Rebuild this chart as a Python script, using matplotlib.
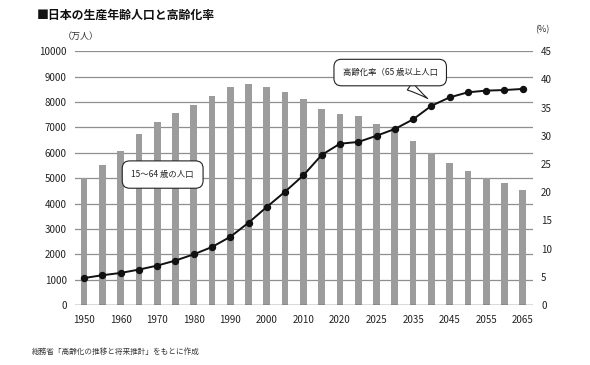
import matplotlib
matplotlib.use("Agg")
import matplotlib.pyplot as plt
import numpy as np

plt.rcParams['font.family'] = ['Noto Sans CJK JP', 'DejaVu Sans']

# 25 bars, evenly spaced; only every other one is labelled in the source
tick_labels = ['1950', '1960', '1970', '1980', '1990', '2000', '2010',
               '2020', '2025', '2035', '2045', '2055', '2065']

# working-age population (15-64), 10k persons
workers = [4990, 5510, 6060, 6730, 7205, 7570, 7875, 8240, 8570, 8715,
           8595, 8400, 8100, 7715, 7505, 7440, 7150, 6980, 6470, 6000,
           5580, 5275, 4990, 4790, 4530]

# aging rate (65+), %
aging = [4.8, 5.3, 5.7, 6.3, 7.0, 7.9, 9.0, 10.3, 12.1, 14.6,
         17.4, 20.1, 23.0, 26.6, 28.6, 28.9, 30.0, 31.2, 32.9, 35.3,
         36.8, 37.7, 38.0, 38.1, 38.3]

x = np.arange(len(workers))

fig = plt.figure(figsize=(5.9, 3.65), dpi=100)
ax = fig.add_axes([0.127, 0.164, 0.776, 0.696])
ax2 = ax.twinx()

# bars + grid on the left axis
ax.bar(x, workers, width=0.37, color='#9c9c9c', zorder=2)
ax.set_ylim(0, 10000)
ax.set_yticks(range(0, 10001, 1000))
ax.set_xlim(-0.5, 24.55)
ax.set_xticks(x[::2])
ax.set_xticklabels(tick_labels)
for v in range(1000, 10001, 1000):
    ax.axhline(v, color='#8f8f8f', lw=0.9, zorder=1)
ax.axhline(0, color='#444444', lw=1.0, zorder=3)

# aging rate line on the right axis
ax2.plot(x, aging, color='#111111', lw=1.4, marker='o', markersize=4.3, zorder=4)
ax2.set_ylim(0, 45)
ax2.set_yticks(range(0, 46, 5))

for a in (ax, ax2):
    for s in a.spines.values():
        s.set_visible(False)
ax.tick_params(axis='y', length=0, pad=6, labelsize=7, colors='#222222')
ax.tick_params(axis='x', length=0, pad=7, labelsize=7, colors='#222222')
ax2.tick_params(axis='y', length=0, pad=6, labelsize=7, colors='#222222')

# callouts
box = dict(boxstyle='round,pad=1.05,rounding_size=0.9', fc='white', ec='#222222', lw=0.8)
ax2.annotate('高齢化率（65 歳以上人口', xy=(18.8, 36.6), xytext=(16.75, 41.2),
             ha='center', va='center', fontsize=6, color='#222222', bbox=box,
             arrowprops=dict(arrowstyle='wedge,tail_width=1.1,shrink_factor=0.4',
                             fc='white', ec='#222222', lw=0.8,
                             shrinkA=0, shrinkB=0), zorder=6)
ax.text(4.3, 5140, '15～64 歳の人口', ha='center', va='center', fontsize=6,
        color='#222222', bbox=dict(boxstyle='round,pad=1.1,rounding_size=0.9',
                                   fc='white', ec='#222222', lw=0.8), zorder=5)

fig.text(0.062, 0.958, '■日本の生産年齢人口と高齢化率', fontsize=8.6,
         fontweight='bold', va='center', ha='left', color='#111111')
fig.text(0.137, 0.899, '（万人）', fontsize=6.5, va='center', ha='center', color='#333333')
fig.text(0.920, 0.918, '(%)', fontsize=6.5, va='center', ha='center', color='#333333')
fig.text(0.054, 0.036, '総務省「高齢化の推移と将来推計」をもとに作成', fontsize=5.5,
         va='center', ha='left', color='#333333')

fig.savefig('out.png', dpi=100)
